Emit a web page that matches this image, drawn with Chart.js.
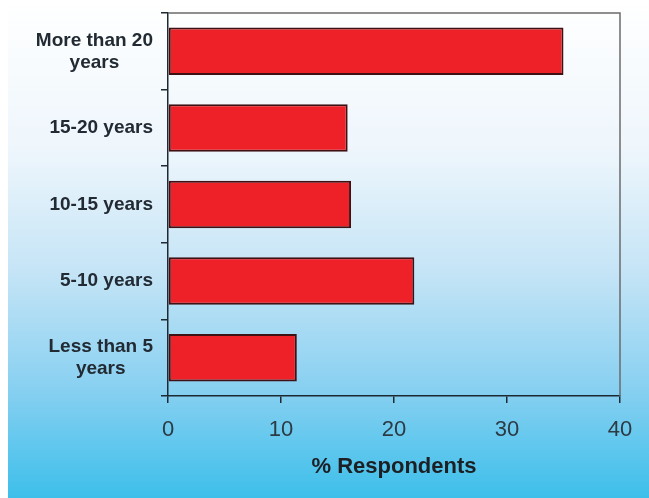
<!DOCTYPE html>
<html>
<head>
<meta charset="utf-8">
<script src="https://cdn.jsdelivr.net/npm/chart.js@4.4.1/dist/chart.umd.min.js"></script>
<style>
  html, body { margin: 0; padding: 0; background: #ffffff; }
  #wrap { width: 649px; height: 498px; }
</style>
</head>
<body>
<div id="wrap"><canvas id="grafico"></canvas></div>
<script>
// tramos de antigüedad (de arriba abajo) y porcentaje de encuestados
const categorias = [
    ["More than 20", "years"],
    ["15-20 years"],
    ["10-15 years"],
    ["5-10 years"],
    ["Less than 5", "years"]
];
const porcentajes = [35, 15.9, 16.2, 21.8, 11.4];
const ticksX = [0, 10, 20, 30, 40];

const colorTexto = "#222a33";

// fondo degradado blanco -> azul cielo
const fondo = {
    id: "fondo",
    beforeDraw(chart) {
        const ctx = chart.ctx;
        const h = chart.height;
        const g = ctx.createLinearGradient(0, 0, 0, h);
        g.addColorStop(0, "#ffffff");
        g.addColorStop(0.3, "#eef6fc");
        g.addColorStop(0.55, "#c4e4f6");
        g.addColorStop(0.78, "#88d0f1");
        g.addColorStop(1, "#3dbfea");
        ctx.save();
        ctx.fillStyle = "#ffffff";
        ctx.fillRect(0, 0, chart.width, h);
        ctx.fillStyle = g;
        ctx.fillRect(8, 0, chart.width - 8, h);
        ctx.restore();
    }
};

// marco gris arriba y a la derecha
const marco = {
    id: "marco",
    beforeDatasetsDraw(chart) {
        const a = chart.chartArea;
        const ctx = chart.ctx;
        ctx.save();
        ctx.strokeStyle = "#6b6b6b";
        ctx.lineWidth = 1.5;
        ctx.beginPath();
        ctx.moveTo(a.left, a.top);
        ctx.lineTo(a.right, a.top);
        ctx.lineTo(a.right, a.bottom);
        ctx.stroke();
        ctx.restore();
    }
};

// etiquetas del eje Y: bloque alineado a la derecha, líneas centradas entre sí
const etiquetasY = {
    id: "etiquetasY",
    afterDraw(chart) {
        const ctx = chart.ctx;
        const y = chart.scales.y;
        const alto = 22;
        ctx.save();
        ctx.font = "bold 19px 'Liberation Sans', Arial, sans-serif";
        ctx.fillStyle = colorTexto;
        ctx.textAlign = "center";
        ctx.textBaseline = "middle";
        categorias.forEach((lineas, i) => {
            const ancho = Math.max(...lineas.map(l => ctx.measureText(l).width));
            const cx = 153 - ancho / 2;
            const cy = y.getPixelForValue(i);
            const y0 = cy - (lineas.length - 1) * alto / 2;
            lineas.forEach((l, k) => ctx.fillText(l, cx, y0 + k * alto));
        });
        ctx.restore();
    }
};

new Chart(document.getElementById("grafico"), {
    type: "bar",
    data: {
        labels: categorias.map(c => c.join(" ")),
        datasets: [{
            data: porcentajes,
            backgroundColor: "#ee2128",
            borderColor: "#3e1214",
            borderWidth: 2,
            borderSkipped: false,
            categoryPercentage: 1,
            barPercentage: 0.62
        }]
    },
    options: {
        indexAxis: "y",
        responsive: true,
        maintainAspectRatio: false,
        animation: false,
        layout: { padding: { top: 13, right: 29, bottom: 0, left: 0 } },
        plugins: {
            legend: { display: false },
            tooltip: { enabled: false }
        },
        scales: {
            x: {
                min: 0,
                max: 40,
                afterBuildTicks(scale) {
                    scale.ticks = ticksX.map(v => ({ value: v }));
                },
                afterFit(scale) { scale.height = 102; },
                grid: {
                    drawOnChartArea: false,
                    drawTicks: true,
                    tickLength: 7,
                    color: "#1e2a33",
                    lineWidth: 1.5
                },
                border: { color: "#1e2a33", width: 1.5 },
                ticks: {
                    padding: 14,
                    color: "#2d3a44",
                    font: { family: "'Liberation Sans', Arial, sans-serif", size: 22 }
                },
                title: {
                    display: true,
                    text: "% Respondents",
                    color: "#1c1f24",
                    padding: { top: 4, bottom: 18 },
                    font: { family: "'Liberation Sans', Arial, sans-serif", size: 22, weight: "bold" }
                }
            },
            y: {
                afterFit(scale) { scale.width = 168; },
                grid: {
                    offset: true,
                    drawOnChartArea: false,
                    drawTicks: true,
                    tickLength: 7,
                    color: "#1e2a33",
                    lineWidth: 1.5
                },
                border: { color: "#1e2a33", width: 1.5 },
                ticks: { display: false }
            }
        }
    },
    plugins: [fondo, marco, etiquetasY]
});
</script>
</body>
</html>
